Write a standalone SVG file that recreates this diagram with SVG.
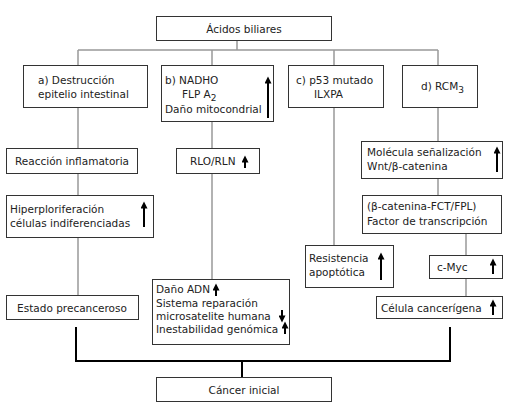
<svg xmlns="http://www.w3.org/2000/svg" width="507" height="412" viewBox="0 0 507 412">
<style>
.box{fill:#fff;stroke:#333;stroke-width:1}
.t{font-family:"DejaVu Sans",Verdana,sans-serif;font-size:10.5px;fill:#222}
.c{text-anchor:middle}
.g{fill:none;stroke:#999;stroke-width:1.5}
.k{fill:none;stroke:#000;stroke-width:2}
.ar{stroke:#000;stroke-width:2;marker-end:url(#ah)}
</style>
<defs>
<marker id="ah" viewBox="0 0 8 8" refX="4" refY="4" markerWidth="8" markerHeight="7" markerUnits="userSpaceOnUse" orient="auto">
<path d="M0,0 L8,4 L0,8 z" fill="#000"/>
</marker>
</defs>
<rect width="507" height="412" fill="#fff"/>
<g id="connectors">
<path class="g" d="M237,40 V50 M78,50 H438 M78,50 V65 M212,50 V65 M334,50 V65 M438,50 V65"/>
<path class="g" d="M78,107 V148 M78,173 V195 M78,237 V295"/>
<path class="g" d="M212,121 V148 M212,173 V279"/>
<path class="g" d="M334,107 V245"/>
<path class="g" d="M438,107 V141 M438,178 V195 M466,233 V255 M466,278 V296"/>
<path class="k" d="M76,327 V361 H450 V327 M242,361 V377"/>
</g>
<g id="acidos"><rect class="box" x="156.5" y="16.5" width="175" height="24"/><text class="t c" x="244" y="33">Ácidos biliares</text></g>
<g id="a"><rect class="box" x="23.5" y="65.5" width="124" height="42"/><text class="t" x="38" y="84">a) Destrucción</text><text class="t" x="38" y="98">epitelio intestinal</text></g>
<g id="b"><rect class="box" x="161.5" y="65.5" width="112" height="56"/><text class="t" x="165" y="84">b) NADHO</text><text class="t" x="182" y="98">FLP A<tspan font-size="9" dy="3">2</tspan></text><text class="t" x="165" y="113">Daño mitocondrial</text><line class="ar" x1="268" y1="118" x2="268" y2="80"/></g>
<g id="c"><rect class="box" x="288.5" y="65.5" width="95" height="42"/><text class="t" x="296" y="84">c) p53 mutado</text><text class="t" x="314" y="98">ILXPA</text></g>
<g id="d"><rect class="box" x="402.5" y="65.5" width="75" height="42"/><text class="t" x="421" y="90">d) RCM<tspan font-size="9" dy="3">3</tspan></text></g>
<g id="reaccion"><rect class="box" x="6.5" y="148.5" width="131" height="25"/><text class="t c" x="72" y="165">Reacción inflamatoria</text></g>
<g id="hiper"><rect class="box" x="6.5" y="195.5" width="147" height="42"/><text class="t" x="10" y="213">Hiperploriferación</text><text class="t" x="10" y="227">células indiferenciadas</text><line class="ar" x1="144" y1="227" x2="144" y2="205"/></g>
<g id="estado"><rect class="box" x="6.5" y="295.5" width="132" height="24"/><text class="t c" x="72" y="312">Estado precanceroso</text></g>
<g id="rlo"><rect class="box" x="176.5" y="148.5" width="83" height="25"/><text class="t" x="190" y="165">RLO/RLN</text><line class="ar" x1="245" y1="168" x2="245" y2="159"/></g>
<g id="adn"><rect class="box" x="152.5" y="279.5" width="137" height="65"/><text class="t" x="156" y="293">Daño ADN</text><text class="t" x="156" y="307">Sistema reparación</text><text class="t" x="156" y="320">microsatelite humana</text><text class="t" x="156" y="333">Inestabilidad genómica</text><line class="ar" x1="216" y1="296" x2="216" y2="287"/><line class="ar" x1="282" y1="310" x2="282" y2="319"/><line class="ar" x1="285" y1="334" x2="285" y2="325"/></g>
<g id="resist"><rect class="box" x="305.5" y="245.5" width="88" height="42"/><text class="t" x="309" y="262">Resistencia</text><text class="t" x="309" y="276">apoptótica</text><line class="ar" x1="381" y1="280" x2="381" y2="256"/></g>
<g id="molecula"><rect class="box" x="361.5" y="141.5" width="141" height="37"/><text class="t" x="367" y="156">Molécula señalización</text><text class="t" x="367" y="170">Wnt/β-catenina</text><line class="ar" x1="497" y1="172" x2="497" y2="150"/></g>
<g id="beta"><rect class="box" x="362.5" y="195.5" width="139" height="38"/><text class="t" x="367" y="210">(β-catenina-FCT/FPL)</text><text class="t" x="367" y="225">Factor de transcripción</text></g>
<g id="cmyc"><rect class="box" x="429.5" y="255.5" width="73" height="23"/><text class="t" x="437" y="271">c-Myc</text><line class="ar" x1="493" y1="274" x2="493" y2="262"/></g>
<g id="celula"><rect class="box" x="376.5" y="296.5" width="126" height="22"/><text class="t" x="381" y="312">Célula cancerígena</text><line class="ar" x1="493" y1="315" x2="493" y2="303"/></g>
<g id="cancer"><rect class="box" x="156.5" y="377.5" width="175" height="24"/><text class="t c" x="244" y="394">Cáncer inicial</text></g>
</svg>
